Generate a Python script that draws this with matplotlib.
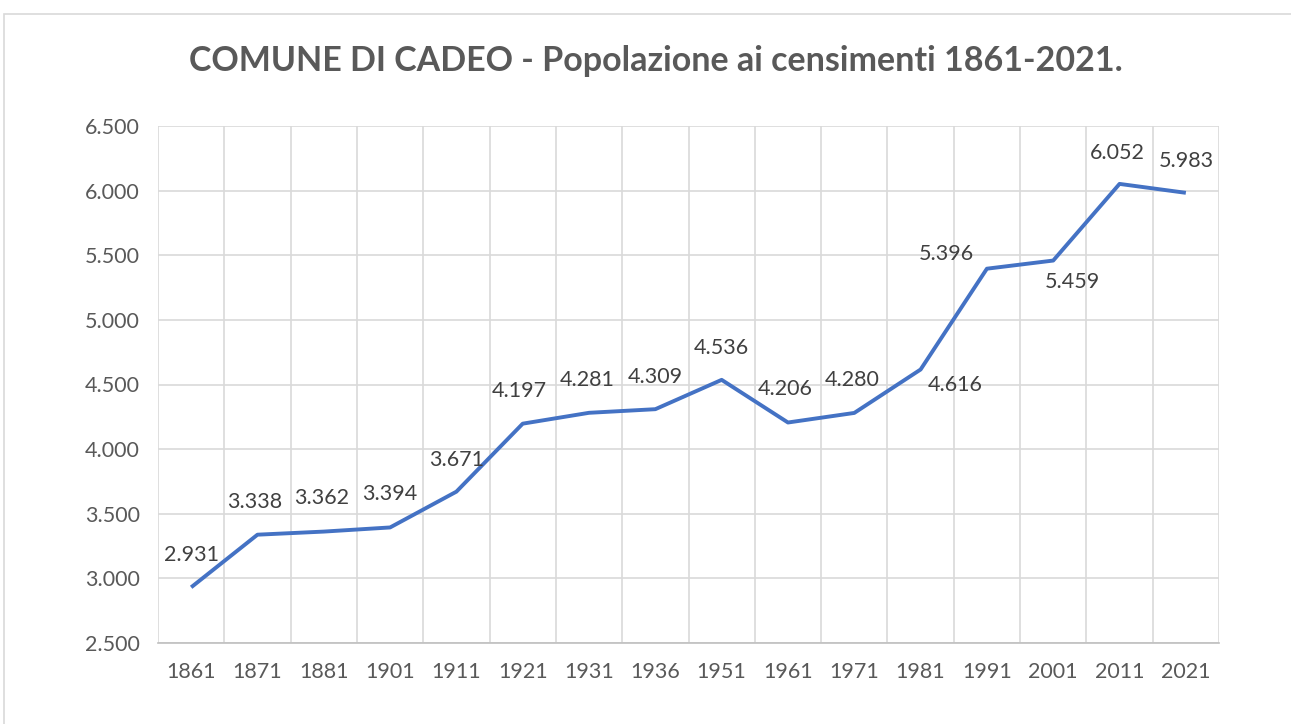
import numpy as np
import matplotlib.pyplot as plt
from matplotlib.patches import Rectangle

years = ['1861', '1871', '1881', '1901', '1911', '1921', '1931', '1936',
         '1951', '1961', '1971', '1981', '1991', '2001', '2011', '2021']
population = [2931, 3338, 3362, 3394, 3671, 4197, 4281, 4309,
              4536, 4206, 4280, 4616, 5396, 5459, 6052, 5983]

# label offsets in pixels (dx, dy), Excel-like placement
label_offsets = [(0, 32), (-3, 33), (-2, 34), (0, 33), (0, 32), (-3, 33), (-2, 33), (0, 32),
                 (0, 32), (-3, 33), (-2, 33), (35, -15), (-41, 15), (19, -21), (-2, 31), (0, 32)]

def fmt(v):
    return f'{v:,}'.replace(',', '.')

plt.rcParams['font.family'] = ['Lato', 'DejaVu Sans']

fig = plt.figure(figsize=(12.91, 7.24), dpi=100)
fig.patches.append(Rectangle((4 / 1291, -0.2), 1.2, (724 - 14) / 724 + 0.2, transform=fig.transFigure,
                             fill=False, edgecolor='#D9D9D9', linewidth=1.2))
ax = fig.add_axes([158 / 1291, 1 - 643 / 724, (1219 - 158) / 1291, (643 - 126) / 724])

x = np.arange(len(years))
ax.plot(x, population, color='#4472C4', linewidth=2.8, solid_capstyle='butt', zorder=3)

for xi, v, (dx, dy) in zip(x, population, label_offsets):
    ax.annotate(fmt(v), (xi, v), xytext=(dx, dy), textcoords='offset pixels',
                ha='center', va='center', fontsize=15.5, color='#404040')

ax.set_xlim(-0.5, len(years) - 0.5)
ax.set_ylim(2500, 6500)
ax.set_yticks(np.arange(2500, 6501, 500))
ax.set_yticklabels([fmt(t) for t in range(2500, 6501, 500)])
ax.set_xticks(x)
ax.set_xticklabels(years)
ax.set_xticks(np.arange(-0.5, len(years), 1), minor=True)
ax.grid(True, axis='y', which='major', color='#D9D9D9', linewidth=1.2)
ax.grid(True, axis='x', which='minor', color='#D9D9D9', linewidth=1.2)
ax.tick_params(axis='both', which='both', length=0, labelsize=15.5, colors='#595959')
ax.tick_params(axis='x', pad=14)
ax.tick_params(axis='y', pad=13)
for s in ['top', 'right', 'left']:
    ax.spines[s].set_visible(False)
ax.spines['bottom'].set_color('#BFBFBF')
ax.spines['bottom'].set_linewidth(1.2)

fig.text(0.5 + 10 / 1291, 1 - 61 / 724, 'COMUNE DI CADEO - Popolazione ai censimenti 1861-2021.',
         ha='center', va='center', fontsize=24.5, fontweight='bold', color='#595959')

fig.savefig('out.png', dpi=100)
